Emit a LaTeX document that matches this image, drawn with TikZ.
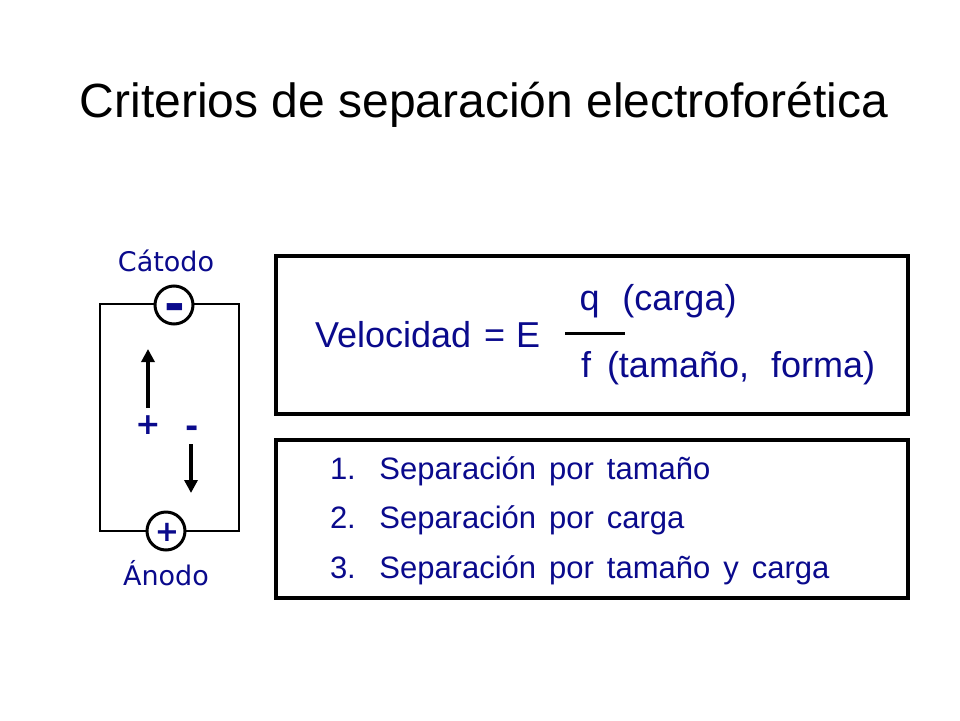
\documentclass[tikz,border=0pt]{standalone}
\usepackage{fontspec}
\setmainfont{Liberation Sans}
\newfontfamily\labelfont{DejaVu Sans}
\usetikzlibrary{calc,arrows.meta}
\definecolor{slideblue}{RGB}{10,10,140}
\newcommand{\widegaps}{\spaceskip=13pt\relax}

\tikzset{
  frame/.style={draw=black, line width=4pt, minimum width=632pt, minimum height=158pt, anchor=north west},
  pole/.style={circle, draw=black, line width=3pt, fill=white, minimum size=38pt},
  drift/.style={line width=4pt, -{Triangle[length=13pt,width=13pt]}},
  formula/.style={anchor=base west, text=slideblue, font=\fontsize{36}{40}\selectfont},
  listitem/.style={anchor=base west, text=slideblue, font=\fontsize{31}{36}\selectfont},
}

\begin{document}
\begin{tikzpicture}[x=1pt,y=-1pt,inner sep=0pt,outer sep=0pt]
    \useasboundingbox (0,0) rectangle (960,720);

    % title
    \node[anchor=base] (title) at (484,117)
    {\fontsize{48}{56}\selectfont Criterios de separación electroforética};

    % circuit
    \draw[line width=2pt] (100,304) rectangle (239,531);
    \node[pole] (cathode) at (174,305) {};
    \node[anchor=base, text=slideblue] (cathode_sign) at (175,321)
    {\labelfont\bfseries\fontsize{50}{50}\selectfont -};
    \node[pole] (anode) at (166,531) {};
    \node[anchor=base, text=slideblue] (anode_sign) at (167,541)
    {\labelfont\bfseries\fontsize{29}{29}\selectfont +};

    \node[anchor=base, text=slideblue] (cathode_lbl) at (166,271)
    {\labelfont\fontsize{27}{30}\selectfont Cátodo};
    \node[anchor=base, text=slideblue] (anode_lbl) at (166,585)
    {\labelfont\fontsize{27}{30}\selectfont Ánodo};

    % migration
    \node[anchor=base, text=slideblue] (pos_lbl) at (148,434)
    {\labelfont\bfseries\fontsize{30}{30}\selectfont +};
    \node[anchor=base, text=slideblue] (neg_lbl) at (192,437)
    {\labelfont\bfseries\fontsize{32}{32}\selectfont -};
    \coordinate (pos_end) at (148,349);
    \coordinate (neg_end) at (191,493);
    \draw[drift] ($(pos_lbl.north)+(0,-7)$) -- (pos_end);
    \draw[drift] ($(neg_lbl.south)+(-1,7)$) -- (neg_end);

    % formula box
    \node[frame] (eq_box) at (276,256) {};
    \node[formula] (vel) at (315,347) {Velocidad\hspace{13pt}=\hspace{11pt}E};
    \node[formula] (num) at (579.5,310) {q\hspace{23pt}(carga)};
    \node[formula] (den) at (581,377) {f\hspace{16pt}(tamaño,\hspace{22pt}forma)};
    \draw[line width=3pt] (565,333) -- (625,333);

    % criteria box
    \node[frame] (list_box) at (276,440) {};
    \node[listitem] (item_one) at (330,479) {\widegaps 1.\hspace{23.5pt}Separación por tamaño};
    \node[listitem] (item_two) at (330,528) {\widegaps 2.\hspace{23.5pt}Separación por carga};
    \node[listitem] (item_three) at (330,578) {\widegaps 3.\hspace{23.5pt}Separación por tamaño y carga};
\end{tikzpicture}
\end{document}
